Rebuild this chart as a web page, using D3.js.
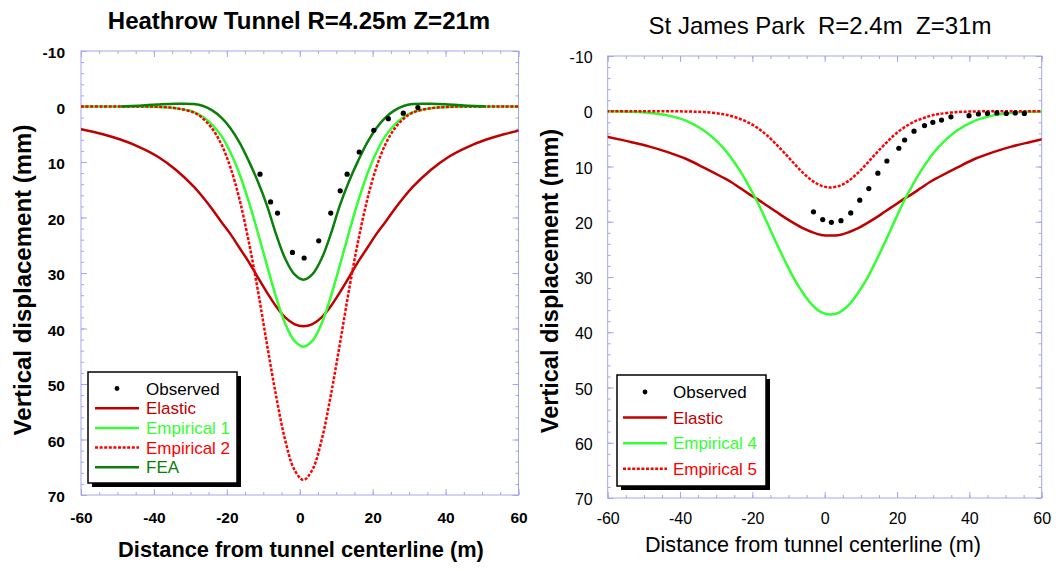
<!DOCTYPE html>
<html>
<head>
<meta charset="utf-8">
<script src="https://cdnjs.cloudflare.com/ajax/libs/d3/7.8.5/d3.min.js"></script>
<style>
	body {margin:0; background:#fff;}
	svg {display:block;}
	text {font-family:"Liberation Sans", Arial, sans-serif;}
</style>
</head>
<body>
<svg id="chart" width="1063" height="571"></svg>
<script>
// ticks
var xMajor = [-60, -40, -20, 0, 20, 40, 60];
var yMajor = [-10, 0, 10, 20, 30, 40, 50, 60, 70];

// Heathrow tunnel (settlement in mm, distance in m)
var heathDist = [-60, -54, -49, -44, -39, -34, -29, -26.5, -24, -21.5, -19, -16.5, -14, -11.5, -9, -6.5, -4, -1.5, 1,
	3.5, 6, 8.5, 11, 13.5, 16, 18.5, 21, 23.5, 26, 28.5, 31, 36, 41, 46, 51, 56, 61];
var heathElastic = [4.1, 5.0, 6.0, 7.3, 9.0, 11.4, 14.5, 16.4, 18.5, 20.8, 23.0, 25.5, 28.0, 30.8, 33.5, 36.0, 38.0, 39.2, 39.6,
	39.2, 38.0, 36.0, 33.5, 30.8, 28.0, 25.5, 23.0, 20.8, 18.5, 16.4, 14.5, 11.4, 9.0, 7.3, 6.0, 5.0, 4.2];
var heathEmp1 = [0, 0, 0, 0, 0.1, 0.3, 1.0, 1.9, 3.3, 5.3, 8.3, 12.2, 17.1, 22.7, 28.6, 34.3, 39.1, 42.2, 43.3,
	42.2, 39.1, 34.3, 28.6, 22.7, 17.1, 12.2, 8.3, 5.3, 3.3, 1.9, 1.0, 0.3, 0.1, 0, 0, 0, 0];
var heathEmp2 = [0, 0, 0, 0, 0.05, 0.3, 1.1, 2.2, 4.0, 6.8, 11.0, 16.8, 24.3, 33.1, 42.8, 52.1, 60.1, 65.4, 67.3,
	65.4, 60.1, 52.1, 42.8, 33.1, 24.3, 16.8, 11.0, 6.8, 4.0, 2.2, 1.1, 0.3, 0.05, 0, 0, 0, 0];
var heathFea = [null, null, 0, -0.15, -0.35, -0.5, -0.45, -0.1, 0.7, 2.0, 3.9, 6.5, 9.8, 13.5, 17.8, 23.0, 27.4, 30.2, 31.2,
	30.2, 27.4, 23.0, 17.8, 13.5, 9.8, 6.5, 3.9, 2.0, 0.7, -0.1, -0.45, -0.5, -0.35, -0.15, 0, null, null];
var heathObsX = [-10.9, -8.0, -6.1, -2.0, 1.2, 5.2, 8.5, 11.1, 13.0, 16.3, 20.3, 24.3, 28.4, 32.4];
var heathObsY = [12.2, 17.2, 19.2, 26.3, 27.3, 24.2, 19.2, 15.2, 12.2, 8.2, 4.3, 2.2, 1.2, 0.2];

// St James Park
var jamesDist = [-60.4, -53.4, -48.4, -43.4, -38.4, -33.4, -28.4, -25.9, -23.4, -20.9, -18.4, -15.9, -13.4, -10.9, -8.4, -5.9, -3.4, -0.9, 1.6,
	4.1, 6.6, 9.1, 11.6, 14.1, 16.6, 19.1, 21.6, 24.1, 26.6, 29.1, 31.6, 36.6, 41.6, 46.6, 51.6, 56.6, 61.6];
var jamesElastic = [4.6, 5.6, 6.4, 7.4, 8.6, 10.2, 11.9, 12.8, 13.9, 15.0, 16.0, 17.1, 18.2, 19.3, 20.3, 21.2, 21.9, 22.4, 22.5,
	22.4, 21.9, 21.2, 20.3, 19.3, 18.2, 17.1, 16.0, 15.0, 13.9, 12.8, 11.9, 10.2, 8.6, 7.4, 6.4, 5.6, 4.85];
var jamesEmp4 = [0, 0.1, 0.3, 0.75, 1.7, 3.5, 6.4, 8.4, 10.8, 13.6, 16.7, 20.2, 23.8, 27.2, 30.4, 33.0, 35.1, 36.4, 36.8,
	36.4, 35.1, 33.0, 30.4, 27.2, 23.8, 20.2, 16.7, 13.6, 10.8, 8.4, 6.4, 3.5, 1.7, 0.75, 0.3, 0.1, 0.03];
var jamesEmp5 = [0, 0, 0, 0, 0.04, 0.15, 0.5, 0.85, 1.4, 2.1, 3.1, 4.4, 6.0, 7.7, 9.5, 11.2, 12.6, 13.5, 13.8,
	13.5, 12.6, 11.2, 9.5, 7.7, 6.0, 4.4, 3.1, 2.1, 1.4, 0.85, 0.5, 0.15, 0.04, 0, 0, 0, 0];
var jamesObsX = [-3.1, -0.55, 1.85, 4.5, 7.2, 9.7, 12.2, 14.7, 17.2, 20.5, 22.1, 24.7, 27.6, 29.9, 32.3, 34.9,
	39.9, 42.5, 45.0, 47.6, 50.2, 52.7, 55.2];
var jamesObsY = [18.2, 19.6, 20.1, 19.8, 18.4, 16.1, 14.0, 11.2, 9.0, 6.7, 5.2, 3.6, 2.6, 2.0, 1.6, 1.0,
	0.8, 0.5, 0.4, 0.3, 0.4, 0.3, 0.4];

var settlementCharts = (function(){
	"use strict";

	var frame_color = "#a3a6ee";
	var elastic_color = "#c00000";
	var emp_light_color = "#33ff33";
	var emp_red_color = "#ff0000";
	var fea_color = "#0a800a";
	var line_width = 2.5;
	var red_dash = "3,1.6";

	var svg = d3.select("#chart");
	svg.append("rect").attr("width", 1063).attr("height", 571).attr("fill", "#fff");

	function series(name, dist, values, color, dash){
		return {name: name, data: d3.zip(dist, values), color: color, dash: dash};
	}

	// plain hyphen, not the unicode minus d3.format gives
	function plain_num(d){ return String(d); }

	function draw_panel(cfg){
		var g = svg.append("g").attr("class", "panel_" + cfg.id);
		var weight = cfg.bold ? "bold" : "normal";

		var x = d3.scaleLinear().domain([-60, 60]).range([cfg.left, cfg.right]);
		var y = d3.scaleLinear().domain([-10, 70]).range([cfg.top, cfg.bottom]);

		g.append("clipPath").attr("id", "clip_" + cfg.id)
			.append("rect")
			.attr("x", cfg.left).attr("y", cfg.top)
			.attr("width", cfg.right - cfg.left).attr("height", cfg.bottom - cfg.top);

		// minor ticks (all four sides, pointing in)
		var xMinor = d3.range(-60, 61, 5);
		var yMinor = d3.range(-10, 71, 2);
		function tick_axis(axis, tx, ty, vals, size){
			g.append("g").attr("transform", "translate(" + tx + "," + ty + ")")
				.attr("color", frame_color)
				.call(axis.tickValues(vals).tickSizeInner(size).tickSizeOuter(0).tickFormat(""))
				.call(function(a){ a.select(".domain").remove(); });
		}
		tick_axis(d3.axisBottom(x), 0, cfg.bottom, xMinor, -3);
		tick_axis(d3.axisTop(x), 0, cfg.top, xMinor, -3);
		tick_axis(d3.axisLeft(y), cfg.left, 0, yMinor, -3);
		tick_axis(d3.axisRight(y), cfg.right, 0, yMinor, -3);
		tick_axis(d3.axisTop(x), 0, cfg.top, xMajor, -6);
		tick_axis(d3.axisRight(y), cfg.right, 0, yMajor, -6);

		// major ticks with labels
		var xAxis = g.append("g").attr("transform", "translate(0," + cfg.bottom + ")")
			.attr("color", frame_color)
			.call(d3.axisBottom(x).tickValues(xMajor).tickFormat(plain_num)
				.tickSizeInner(-6).tickSizeOuter(0).tickPadding(cfg.xPad));
		var yAxis = g.append("g").attr("transform", "translate(" + cfg.left + ",0)")
			.attr("color", frame_color)
			.call(d3.axisLeft(y).tickValues(yMajor).tickFormat(plain_num)
				.tickSizeInner(-6).tickSizeOuter(0).tickPadding(cfg.yPad));
		[xAxis, yAxis].forEach(function(a){
			a.select(".domain").remove();
			a.attr("font-family", null).attr("font-size", cfg.tickFont).attr("font-weight", weight);
			a.selectAll("text").attr("fill", "#000");
		});
		yAxis.selectAll("text").attr("dy", "0.42em");

		g.append("rect")
			.attr("x", cfg.left).attr("y", cfg.top)
			.attr("width", cfg.right - cfg.left).attr("height", cfg.bottom - cfg.top)
			.attr("fill", "none").attr("stroke", frame_color).attr("stroke-width", 1);

		// curves
		var line = d3.line()
			.defined(function(d){ return d[1] !== null; })
			.x(function(d){ return x(d[0]); })
			.y(function(d){ return y(d[1]); })
			.curve(d3.curveCatmullRom.alpha(0.5));

		var plot = g.append("g").attr("clip-path", "url(#clip_" + cfg.id + ")");
		cfg.series.forEach(function(s){
			plot.append("path")
				.attr("d", line(s.data))
				.attr("fill", "none")
				.attr("stroke", s.color)
				.attr("stroke-width", line_width)
				.attr("stroke-dasharray", s.dash)
				.attr("stroke-linejoin", "round");
		});

		plot.selectAll("circle.obs").data(d3.zip(cfg.obsX, cfg.obsY)).enter()
			.append("circle").attr("class", "obs")
			.attr("cx", function(d){ return x(d[0]); })
			.attr("cy", function(d){ return y(d[1]); })
			.attr("r", 2.6)
			.attr("fill", "#000");

		// texts
		g.append("text")
			.attr("x", cfg.titleX).attr("y", cfg.titleY)
			.attr("text-anchor", "middle")
			.attr("font-size", cfg.titleSize).attr("font-weight", weight)
			.style("white-space", "pre")
			.text(cfg.title);

		g.append("text")
			.attr("x", cfg.xTitleX).attr("y", cfg.xTitleY)
			.attr("text-anchor", "middle")
			.attr("font-size", cfg.xTitleSize).attr("font-weight", weight)
			.text("Distance from tunnel centerline (m)");

		g.append("text")
			.attr("transform", "translate(" + cfg.yTitleX + "," + cfg.yTitleY + ") rotate(-90)")
			.attr("text-anchor", "middle")
			.attr("font-size", cfg.yTitleSize).attr("font-weight", "bold")
			.text("Vertical displacement (mm)");

		draw_legend(g, cfg.legend, cfg.series);
	}

	function draw_legend(g, lg, list){
		var box = g.append("g").attr("class", "legend");
		box.append("rect")
			.attr("x", lg.x + 4).attr("y", lg.y + 4)
			.attr("width", lg.w).attr("height", lg.h)
			.attr("fill", "#000");
		box.append("rect")
			.attr("x", lg.x).attr("y", lg.y)
			.attr("width", lg.w).attr("height", lg.h)
			.attr("fill", "#fff").attr("stroke", "#000").attr("stroke-width", 1.5);

		var rows = [{name: "Observed", color: "#000", dot: true}].concat(list);
		rows.forEach(function(s, i){
			var ry = lg.row0 + i * lg.rowGap;
			if (s.dot) {
				box.append("circle")
					.attr("cx", (lg.lineX0 + lg.lineX1) / 2).attr("cy", ry)
					.attr("r", 2.4).attr("fill", "#000");
			} else {
				box.append("line")
					.attr("x1", lg.lineX0).attr("x2", lg.lineX1)
					.attr("y1", ry).attr("y2", ry)
					.attr("stroke", s.color).attr("stroke-width", line_width)
					.attr("stroke-dasharray", s.dash);
			}
			box.append("text")
				.attr("x", lg.textX).attr("y", ry + 6)
				.attr("font-size", 17)
				.attr("fill", s.color)
				.text(s.name);
		});
	}

	draw_panel({
		id: "heath", left: 81, right: 518.5, top: 51, bottom: 495, bold: true,
		tickFont: 15.5, xPad: 17, yPad: 16,
		title: "Heathrow Tunnel R=4.25m Z=21m", titleX: 299, titleY: 28.5, titleSize: 24,
		xTitleX: 301, xTitleY: 557, xTitleSize: 21.8,
		yTitleX: 31, yTitleY: 280, yTitleSize: 24,
		series: [
			series("Elastic", heathDist, heathElastic, elastic_color, null),
			series("Empirical 1", heathDist, heathEmp1, emp_light_color, null),
			series("Empirical 2", heathDist, heathEmp2, emp_red_color, red_dash),
			series("FEA", heathDist, heathFea, fea_color, null)
		],
		obsX: heathObsX, obsY: heathObsY,
		legend: {x: 88, y: 372, w: 149, h: 111, row0: 388.5, rowGap: 19.7, lineX0: 95, lineX1: 139, textX: 146}
	});

	draw_panel({
		id: "james", left: 607.7, right: 1041.7, top: 56, bottom: 498, bold: false,
		tickFont: 16, xPad: 15, yPad: 15,
		title: "St James Park  R=2.4m  Z=31m", titleX: 820, titleY: 33.5, titleSize: 24,
		xTitleX: 813, xTitleY: 552, xTitleSize: 21.6,
		yTitleX: 558, yTitleY: 281, yTitleSize: 23.5,
		series: [
			series("Elastic", jamesDist, jamesElastic, elastic_color, null),
			series("Empirical 4", jamesDist, jamesEmp4, emp_light_color, null),
			series("Empirical 5", jamesDist, jamesEmp5, emp_red_color, red_dash)
		],
		obsX: jamesObsX, obsY: jamesObsY,
		legend: {x: 617, y: 375, w: 149, h: 111, row0: 392, rowGap: 25.6, lineX0: 623, lineX1: 667, textX: 673}
	});

	return {draw_panel: draw_panel};
})();
</script>
</body>
</html>
